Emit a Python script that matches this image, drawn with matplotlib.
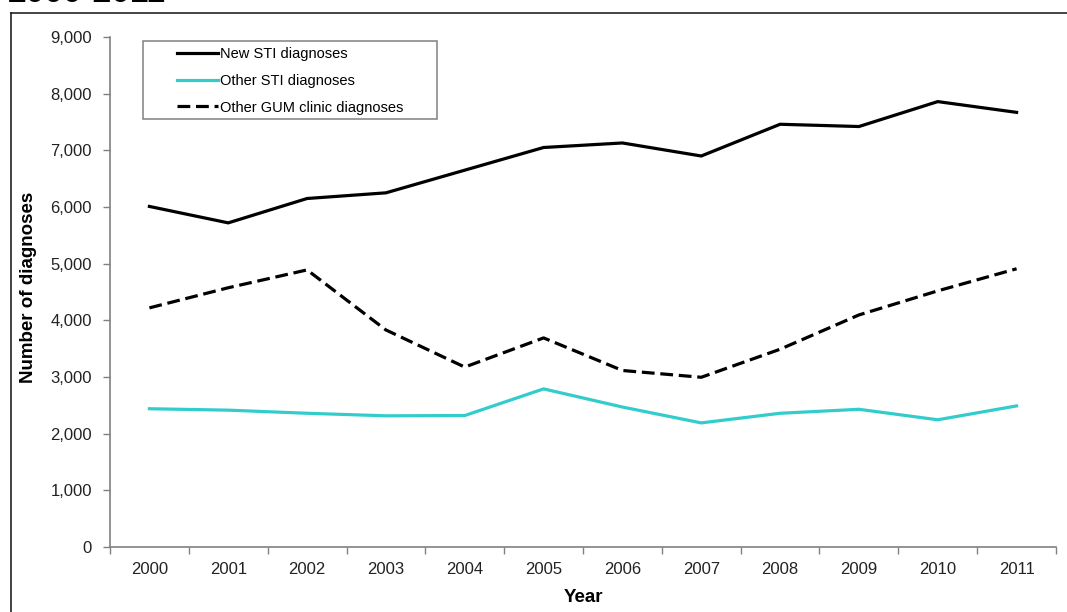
import matplotlib
matplotlib.use("Agg")
import matplotlib.pyplot as plt
from matplotlib.lines import Line2D
from matplotlib.patches import Rectangle
from matplotlib.ticker import FuncFormatter, FixedLocator

plt.rcParams['font.family'] = ['Liberation Sans', 'DejaVu Sans']

years = ['2000', '2001', '2002', '2003', '2004', '2005',
         '2006', '2007', '2008', '2009', '2010', '2011']
new_sti = [6010, 5720, 6150, 6250, 6650, 7050, 7130, 6900, 7460, 7420, 7860, 7670]
other_sti = [2440, 2415, 2360, 2315, 2320, 2790, 2470, 2190, 2360, 2430, 2245, 2490]
other_gum = [4220, 4575, 4890, 3830, 3175, 3690, 3115, 2995, 3490, 4095, 4520, 4910]
series_labels = ['New STI diagnoses', 'Other STI diagnoses', 'Other GUM clinic diagnoses']

W, H = 1067, 612
fig = plt.figure(figsize=(W / 100, H / 100), dpi=100)
ax = fig.add_axes([110 / W, 1 - 547 / H, 946 / W, (547 - 37) / H])

x = list(range(len(years)))
l1, = ax.plot(x, new_sti, color='black', lw=2.3, solid_joinstyle='miter')
l2, = ax.plot(x, other_sti, color='#33CCCC', lw=2.3, solid_joinstyle='miter')
l3, = ax.plot(x, other_gum, color='black', lw=2.3, dashes=(4, 1.8))

ax.set_xlim(-0.5, len(years) - 0.5)
ax.set_ylim(0, 9000)
ax.set_yticks(range(0, 9001, 1000))
ax.yaxis.set_major_formatter(FuncFormatter(lambda v, p: f"{int(v):,}"))

# category labels centred, tick marks on category boundaries
ax.set_xticks(x)
ax.set_xticklabels(years)
ax.xaxis.set_minor_locator(FixedLocator([i - 0.5 for i in range(len(years) + 1)]))
ax.tick_params(axis='x', which='major', length=0, pad=11, labelsize=12, labelcolor='#222222')
ax.tick_params(axis='x', which='minor', length=5, width=1, color='#808080', direction='out')
ax.tick_params(axis='y', length=5, width=1, color='#808080', direction='out', pad=8,
               labelsize=12, labelcolor='#222222')

for s in ('top', 'right'):
    ax.spines[s].set_visible(False)
for s in ('left', 'bottom'):
    ax.spines[s].set_color('#808080')
    ax.spines[s].set_linewidth(1.2)

ax.set_ylabel('Number of diagnoses', fontsize=13.5, fontweight='bold')
ax.yaxis.set_label_coords((37 - 110) / 946, 0.51)
ax.set_xlabel('Year', fontsize=13.5, fontweight='bold')
ax.xaxis.set_label_coords(0.5, (547 - 589) / 510)

# legend with a plain rectangular frame
leg = ax.legend([l1, l2, l3], series_labels, loc='upper left',
                bbox_to_anchor=((174 - 110) / 946, (547 - 44) / 510),
                frameon=False, fontsize=10.5, handlelength=2.8, handletextpad=0.15,
                labelspacing=0.88, borderpad=0.2, borderaxespad=0)
ax.add_patch(Rectangle(((143 - 110) / 946, (547 - 119) / 510), (437 - 143) / 946, 78 / 510,
                       transform=ax.transAxes, fill=False, edgecolor='#808080', lw=1.1,
                       zorder=5, clip_on=False))

# outer frame and title running off the top edge
fig.add_artist(Line2D([11 / W, 11 / W], [0, 1 - 13 / H], color='#111111', lw=1.1))
fig.add_artist(Line2D([11 / W, 1], [1 - 13 / H, 1 - 13 / H], color='#111111', lw=1.1))
fig.text(8 / W, 1 - 1.5 / H, '2000-2011', fontsize=24, fontweight='bold', va='baseline', ha='left')

fig.savefig('out.png', dpi=100)
